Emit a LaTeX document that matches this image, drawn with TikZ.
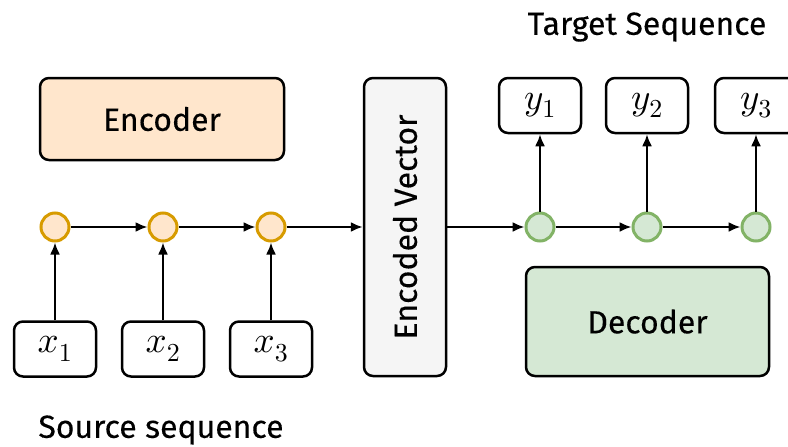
\documentclass[tikz,border=0pt]{standalone}
\usepackage[no-math]{fontspec}
\setmainfont{Fira Sans}[FakeBold=0.3]
\DeclareFontShape{OML}{cmm}{m}{it}{<->cmmi10}{}
\DeclareFontShape{OT1}{cmr}{m}{n}{<->cmr10}{}
\usetikzlibrary{arrows.meta}
\definecolor{encfill}{HTML}{FFE6CC}
\definecolor{encdraw}{HTML}{D79B00}
\definecolor{decfill}{HTML}{D5E8D4}
\definecolor{decdraw}{HTML}{82B366}
\definecolor{vecfill}{HTML}{F5F5F5}
\tikzset{
  box/.style={draw, line width=2.5pt, rounded corners=9pt, inner sep=0pt, font=\fontsize{32}{38}\selectfont},
  token/.style={box, fill=white, minimum width=82pt, minimum height=55pt, font=\fontsize{37}{42}\selectfont},
  encstate/.style={circle, draw=encdraw, fill=encfill, line width=3pt, minimum size=28pt, inner sep=0pt},
  decstate/.style={circle, draw=decdraw, fill=decfill, line width=3pt, minimum size=28pt, inner sep=0pt},
  link/.style={line width=2.2pt, -{Latex[length=12pt,width=10pt]}},
}
\begin{document}
\begin{tikzpicture}[x=1pt, y=-1pt]
\useasboundingbox (0,0) rectangle (788,447);
\node [box, fill=encfill, minimum width=244pt, minimum height=82pt] (enc) at (162,119) {Encoder};
\node [box, fill=decfill, minimum width=243pt, minimum height=109pt] (dec) at (647.5,321.5) {Decoder};
\node [box, fill=vecfill, minimum width=298pt, minimum height=82pt, rotate=90] (vec) at (405,227) {Encoded Vector};
\node [font=\fontsize{32}{38}\selectfont] (tgt) at (647,27) {Target Sequence};
\node [font=\fontsize{32}{38}\selectfont] (src) at (161,430) {Source sequence};
% encoder side
\node [encstate] (h1) at (55,227) {};
\node [encstate] (h2) at (163,227) {};
\node [encstate] (h3) at (271,227) {};
\node [token] (x1) at (55,349) {$x_1$};
\node [token] (x2) at (163,349) {$x_2$};
\node [token] (x3) at (271,349) {$x_3$};
% decoder side
\node [decstate] (s1) at (540,227) {};
\node [decstate] (s2) at (647,227) {};
\node [decstate] (s3) at (756,227) {};
\node [token] (y1) at (540,105.5) {$y_1$};
\node [token] (y2) at (647,105.5) {$y_2$};
\node [token] (y3) at (756,105.5) {$y_3$};
\draw [link] (x1) -- (h1);
\draw [link] (x2) -- (h2);
\draw [link] (x3) -- (h3);
\draw [link] (h1) -- (h2);
\draw [link] (h2) -- (h3);
\draw [link] (h3) -- (vec);
\draw [link] (vec) -- (s1);
\draw [link] (s1) -- (s2);
\draw [link] (s2) -- (s3);
\draw [link] (s1) -- (y1);
\draw [link] (s2) -- (y2);
\draw [link] (s3) -- (y3);
\end{tikzpicture}
\end{document}
